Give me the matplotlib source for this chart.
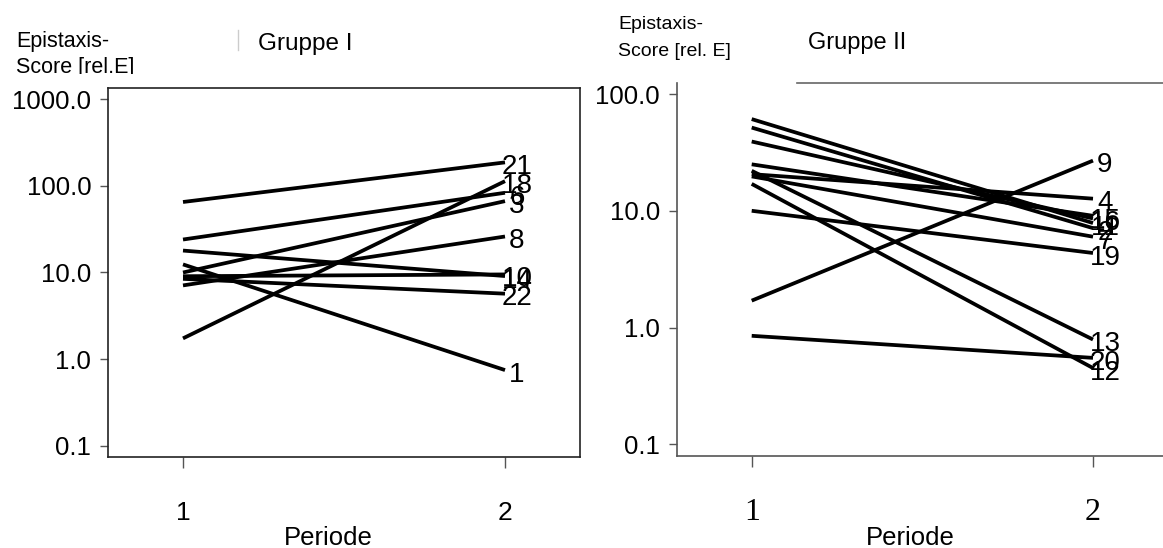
import matplotlib
matplotlib.use('Agg')
import matplotlib.pyplot as plt
from matplotlib.lines import Line2D
from matplotlib.patches import Rectangle

W, H = 1163, 548

# ---- data ----
periods = [1, 2]
period_labels = ['1', '2']

g1_ids = ['21', '6', '3', '18', '8', '14', '1', '22', '10']
g1_p1 = [65, 24, 10, 1.74, 7.1, 17.9, 12.4, 8.45, 9.06]
g1_p2 = [186, 83, 66.5, 113, 26, 9.1, 0.75, 5.7, 9.5]

g2_ids = ['9', '20', '19', '12', '13', '4', '7', '15', '16', '11', '2']
g2_p1 = [1.7, 0.85, 10, 17, 22, 20.6, 19.7, 25, 39.2, 61, 51.6]
g2_p2 = [26.9, 0.55, 4.35, 0.45, 0.79, 12.7, 6.0, 9.06, 8.6, 7.85, 7.1]

yticks1 = [0.1, 1, 10, 100, 1000]
ylabels1 = ['0.1', '1.0', '10.0', '100.0', '1000.0']
yticks2 = [0.1, 1, 10, 100]
ylabels2 = ['0.1', '1.0', '10.0', '100.0']

plt.rcParams['font.family'] = ['Liberation Sans', 'DejaVu Sans']

fig = plt.figure(figsize=(W / 100, H / 100), dpi=100)


def px(x0, y_top, x1, y_bot):
    return [x0 / W, 1 - y_bot / H, (x1 - x0) / W, (y_bot - y_top) / H]


ax1 = fig.add_axes(px(108, 88, 580, 457))
ax2 = fig.add_axes(px(676.7, 82.7, 1168, 456))


def draw(ax, p1, p2, ids, yt, yl, ylim, xlim, spcol, xfont, xpad):
    for a, b, lab in zip(p1, p2, ids):
        ax.plot(periods, [a, b], color='black', lw=2.7, solid_capstyle='butt', zorder=3)
        ax.annotate(lab, (periods[1], b), xytext=(8.6, -8.5), textcoords='offset points',
                    ha='center', va='baseline', fontsize=20, color='black',
                    annotation_clip=False)
    ax.set_yscale('log')
    ax.set_ylim(*ylim)
    ax.set_xlim(*xlim)
    ax.set_yticks(yt)
    ax.set_yticklabels(yl)
    ax.minorticks_off()
    ax.set_xticks(periods)
    ax.set_xticklabels(period_labels, **xfont)
    ax.tick_params(axis='y', length=6, width=1, color='#555555', pad=6, labelsize=18.5)
    ax.tick_params(axis='x', length=8, width=1, color='#555555', pad=xpad)
    for s in ax.spines.values():
        s.set_color(spcol)
        s.set_linewidth(1.2)


draw(ax1, g1_p1, g1_p2, g1_ids, yticks1, ylabels1,
     (10 ** -1.127, 10 ** 3.127), (1 - 75 / 322, 2 + 75 / 322), '#222222',
     dict(fontsize=19, family=['Liberation Sans']), 24)
draw(ax2, g2_p1, g2_p2, g2_ids, yticks2, ylabels2,
     (10 ** -1.1, 10 ** 2.097), (1 - 75 / 341.3, 2 + 75 / 341.3), '#555555',
     dict(fontsize=23, family=['Liberation Serif']), 22)
ax2.spines['top'].set_visible(False)
ax2.spines['right'].set_visible(False)


def ftext(x, y, s, **kw):
    fig.text(x / W, 1 - y / H, s, **kw)


# header texts
ftext(16, 47, 'Epistaxis-', fontsize=15.5, va='baseline', ha='left')
ftext(16, 73.5, 'Score [rel.E]', fontsize=15.5, va='baseline', ha='left')
fig.patches.append(Rectangle((0, 1 - 87 / H), 200 / W, 13 / H, transform=fig.transFigure,
                             facecolor='white', edgecolor='none', zorder=10))
ftext(258, 50, 'Gruppe I', fontsize=17.5, va='baseline', ha='left')
fig.add_artist(Line2D([238 / W, 238 / W], [1 - 30 / H, 1 - 50 / H], color='#cccccc', lw=1))

ftext(618, 29, 'Epistaxis-', fontsize=14, va='baseline', ha='left')
ftext(618, 56, 'Score [rel. E]', fontsize=14, va='baseline', ha='left')
ftext(808, 49, 'Gruppe II', fontsize=17, va='baseline', ha='left')
fig.add_artist(Line2D([797 / W, 1], [1 - 82.7 / H, 1 - 82.7 / H], color='#666666', lw=1.2))

ftext(328, 538, 'Periode', fontsize=18.5, va='center', ha='center')
ftext(910, 538, 'Periode', fontsize=18.5, va='center', ha='center')

fig.savefig('out.png', dpi=100)
